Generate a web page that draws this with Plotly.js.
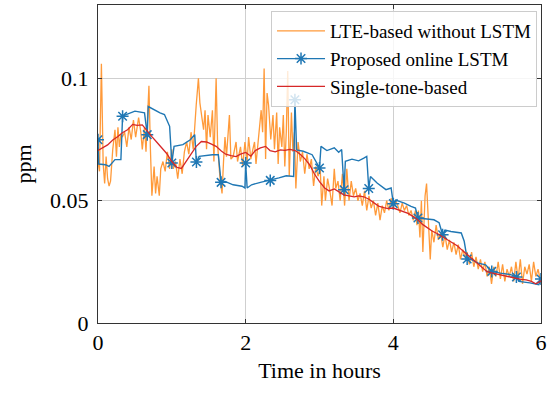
<!DOCTYPE html>
<html>
<head>
<meta charset="utf-8">
<script src="https://cdn.plot.ly/plotly-3.0.1.min.js"></script>
<style>html,body{margin:0;padding:0;background:#fff;}#chart{width:555px;height:393px;}</style>
</head>
<body>
<div id="chart"></div>
<script>
// LTE-based without LSTM (orange)
const lteX = [0.00,0.02,0.046,0.07,0.09,0.11,0.13,0.15,0.17,0.20,0.23,0.25,0.27,0.29,0.31,0.33,0.36,0.39,0.42,0.45,0.48,0.51,0.55,0.58,0.60,0.63,0.65,0.69,0.71,0.73,0.76,0.78,0.80,0.83,0.85,0.88,0.91,0.94,0.97,1.00,
1.02,1.05,1.08,1.11,1.14,1.17,1.20,1.23,1.26,1.29,1.33,1.36,1.38,1.40,1.43,1.45,1.47,1.49,1.52,1.55,1.57,1.60,1.62,1.65,1.68,1.70,1.72,1.74,1.78,1.80,1.83,1.87,1.89,1.93,1.96,1.99,
2.02,2.04,2.07,2.09,2.12,2.14,2.18,2.21,2.23,2.25,2.27,2.29,2.31,2.34,2.37,2.39,2.42,2.44,2.46,2.49,2.51,2.53,2.55,2.57,2.59,2.62,2.64,2.66,2.68,2.71,2.74,2.77,2.80,2.83,2.86,2.89,2.92,2.95,2.98,
3.01,3.03,3.06,3.08,3.11,3.14,3.17,3.20,3.22,3.25,3.28,3.31,3.34,3.37,3.40,3.43,3.46,3.49,3.52,3.55,3.58,3.61,3.64,3.67,3.70,3.73,3.76,3.79,3.82,3.85,3.88,3.91,3.94,3.97,
4.00,4.03,4.06,4.09,4.12,4.15,4.18,4.21,4.24,4.27,4.30,4.32,4.34,4.36,4.38,4.40,4.43,4.45,4.47,4.50,4.52,4.55,4.58,4.61,4.64,4.67,4.70,4.73,4.76,4.79,4.82,4.85,4.88,4.91,4.94,4.97,
5.00,5.03,5.06,5.09,5.12,5.15,5.18,5.21,5.24,5.27,5.30,5.33,5.36,5.39,5.42,5.45,5.48,5.51,5.54,5.57,5.60,5.63,5.66,5.69,5.72,5.75,5.78,5.81,5.84,5.87,5.90,5.93,5.96,6.00];
const lteY = [0.066,0.062,0.106,0.065,0.057,0.068,0.059,0.056,0.058,0.071,0.079,0.068,0.080,0.072,0.077,0.076,0.078,0.072,0.080,0.075,0.083,0.076,0.084,0.078,0.071,0.080,0.070,0.097,0.071,0.052,0.064,0.053,0.060,0.052,0.063,0.066,0.062,0.070,0.063,0.071,
0.063,0.066,0.059,0.067,0.061,0.070,0.074,0.069,0.078,0.071,0.089,0.100,0.090,0.086,0.079,0.087,0.071,0.085,0.076,0.087,0.066,0.100,0.073,0.060,0.053,0.066,0.076,0.068,0.085,0.067,0.068,0.074,0.066,0.072,0.064,0.074,
0.066,0.076,0.067,0.070,0.074,0.065,0.079,0.087,0.078,0.104,0.067,0.094,0.089,0.075,0.085,0.071,0.086,0.065,0.080,0.072,0.085,0.064,0.078,0.103,0.060,0.086,0.070,0.078,0.055,0.074,0.066,0.070,0.061,0.069,0.063,0.067,0.056,0.064,0.060,
0.063,0.048,0.060,0.050,0.059,0.054,0.048,0.063,0.055,0.058,0.050,0.061,0.048,0.063,0.050,0.058,0.052,0.055,0.050,0.053,0.048,0.054,0.046,0.052,0.047,0.050,0.044,0.049,0.042,0.048,0.045,0.050,0.046,0.051,
0.047,0.050,0.048,0.045,0.049,0.046,0.048,0.044,0.046,0.042,0.046,0.040,0.046,0.035,0.050,0.029,0.052,0.057,0.045,0.026,0.038,0.033,0.040,0.034,0.037,0.031,0.036,0.030,0.034,0.029,0.033,0.028,0.032,0.026,0.030,0.027,
0.029,0.024,0.029,0.023,0.027,0.022,0.026,0.021,0.025,0.019,0.023,0.016,0.023,0.019,0.025,0.018,0.024,0.017,0.022,0.019,0.023,0.017,0.025,0.018,0.026,0.016,0.023,0.020,0.024,0.017,0.025,0.019,0.022,0.016];

// Proposed online LSTM (blue)
const lstmX = [0,0.01,0.10,0.15,0.23,0.31,
0.333,0.38,0.50,0.63,
0.667,0.68,0.84,0.90,0.97,
1.0,1.03,1.15,1.25,1.31,
1.333,1.37,1.55,1.63,
1.667,1.72,1.83,1.95,1.99,
2.0,2.02,2.08,2.20,
2.333,2.45,2.55,2.65,
2.667,2.69,2.78,2.90,
3.0,3.02,3.10,3.20,3.26,3.30,
3.333,3.35,3.44,3.53,3.60,3.64,
3.667,3.69,3.78,3.90,3.97,
4.0,4.03,4.15,4.24,4.30,
4.333,4.40,4.55,4.62,
4.667,4.70,4.78,4.92,4.96,
5.0,5.05,5.15,5.25,5.31,
5.333,5.45,5.60,
5.667,5.70,5.85,5.97,
6.0];
const lstmY = [0.0749,0.0650,0.0647,0.0640,0.0668,0.0668,
0.0845,0.0852,0.0866,0.0859,
0.0770,0.0885,0.0859,0.0852,0.0804,
0.0654,0.0722,0.0729,0.0749,0.0770,
0.0658,0.0681,0.0688,0.0688,
0.0575,0.0579,0.0565,0.0559,0.0552,
0.0654,0.0552,0.0565,0.0575,
0.0583,0.0593,0.0602,0.0599,
0.0913,0.0708,0.0702,0.0688,
0.0634,0.0722,0.0705,0.0716,0.0698,0.0709,
0.0545,0.0661,0.0670,0.0663,0.0674,0.0681,
0.0550,0.0599,0.0572,0.0545,0.0552,
0.0488,0.0502,0.0490,0.0477,0.0470,
0.0429,0.0427,0.0422,0.0410,
0.0361,0.0380,0.0374,0.0368,0.0334,
0.0262,0.0260,0.0245,0.0238,0.0218,
0.0211,0.0204,0.0197,
0.0188,0.0170,0.0164,0.0157,
0.0180];
const lstmMarkX = [0,0.333,0.667,1.0,1.333,1.667,2.0,2.333,2.667,3.0,3.333,3.667,4.0,4.333,4.667,5.0,5.333,5.667,6.0];
const lstmMarkY = [0.0749,0.0845,0.0770,0.0654,0.0658,0.0575,0.0654,0.0583,0.0913,0.0634,0.0545,0.0550,0.0488,0.0429,0.0361,0.0262,0.0211,0.0188,0.0180];

// Single-tone-based (red)
const toneX = [0.00,0.07,0.13,0.20,0.27,0.33,0.40,0.47,0.53,0.60,0.67,0.73,0.80,0.87,0.93,1.00,1.07,1.13,1.20,1.27,1.33,1.40,1.47,1.53,1.60,1.67,1.73,1.80,1.87,1.93,
2.00,2.07,2.13,2.20,2.27,2.33,2.40,2.47,2.53,2.60,2.67,2.73,2.80,2.87,2.93,3.00,3.07,3.13,3.20,3.27,3.33,3.40,3.47,3.53,3.60,3.67,3.73,3.80,3.87,3.93,
4.00,4.07,4.13,4.20,4.27,4.33,4.40,4.47,4.53,4.60,4.67,4.73,4.80,4.87,4.93,5.00,5.07,5.13,5.20,5.27,5.33,5.40,5.47,5.53,5.60,5.67,5.73,5.80,5.87,5.93,6.00];
const toneY = [0.0705,0.0718,0.0728,0.0748,0.0762,0.0778,0.0790,0.0812,0.0808,0.0810,0.0783,0.0762,0.0738,0.0712,0.0693,0.0660,0.0636,0.0632,0.0664,0.0692,0.0722,0.0742,0.0740,0.0732,0.0722,0.0703,0.0690,0.0684,0.0680,0.0690,
0.0697,0.0682,0.0705,0.0716,0.0722,0.0705,0.0700,0.0708,0.0706,0.0710,0.0705,0.0692,0.0672,0.0645,0.0610,0.0578,0.0552,0.0540,0.0548,0.0535,0.0524,0.0520,0.0516,0.0520,0.0516,0.0506,0.0492,0.0478,0.0472,0.0468,
0.0470,0.0462,0.0458,0.0448,0.0435,0.0422,0.0402,0.0388,0.0375,0.0365,0.0352,0.0342,0.0328,0.0315,0.0298,0.0280,0.0262,0.0245,0.0225,0.0210,0.0205,0.0200,0.0195,0.0190,0.0186,0.0182,0.0178,0.0176,0.0170,0.0160,0.0172];

const xTicks = [0,2,4,6];
const yTicks = [0,0.05,0.1];
const yTickText = ['0','0.05','0.1'];

const ORANGE = '#ff9a3a', BLUE = '#1f77b4', RED = '#d62728';
const FONT = '"Liberation Serif", "Times New Roman", Times, serif';

const traces = [
  {x: lteX, y: lteY, mode: 'lines', name: 'LTE-based without LSTM',
   line: {color: ORANGE, width: 1.3}},
  {x: lstmX, y: lstmY, mode: 'lines', showlegend: false, hoverinfo: 'skip',
   line: {color: BLUE, width: 1.4}},
  {x: lstmMarkX, y: lstmMarkY, mode: 'markers', showlegend: false,
   marker: {symbol: 'asterisk-open', size: 10, color: BLUE, line: {color: BLUE, width: 1.5}}},
  {x: [null], y: [null], mode: 'lines+markers', name: 'Proposed online LSTM',
   line: {color: BLUE, width: 1.4},
   marker: {symbol: 'asterisk-open', size: 10, color: BLUE, line: {color: BLUE, width: 1.5}}},
  {x: toneX, y: toneY, mode: 'lines', name: 'Single-tone-based',
   line: {color: RED, width: 1.3}}
];

const axisCommon = {
  showline: true, linecolor: '#333', linewidth: 1, mirror: 'ticks',
  ticks: 'inside', ticklen: 4, tickcolor: '#333', tickwidth: 1,
  showgrid: true, gridcolor: '#cfcfcf', gridwidth: 1, zeroline: false,
  tickfont: {family: FONT, size: 22, color: '#000'}
};

const layout = {
  width: 555, height: 393,
  margin: {l: 98, r: 14, t: 5, b: 70},
  paper_bgcolor: '#fff', plot_bgcolor: '#fff',
  font: {family: FONT, color: '#000'},
  xaxis: Object.assign({}, axisCommon, {
    range: [0, 6], tickvals: xTicks, ticktext: xTicks.map(String),
    title: {text: 'Time in hours', font: {family: FONT, size: 22, color: '#000'}, standoff: 8}
  }),
  yaxis: Object.assign({}, axisCommon, {
    range: [0, 0.13], tickvals: yTicks, ticktext: yTickText, ticklabelstandoff: 4,
    title: {text: 'ppm', font: {family: FONT, size: 22, color: '#000'}, standoff: 12}
  }),
  showlegend: true,
  legend: {
    x: 0.991, xanchor: 'right', y: 0.981, yanchor: 'top',
    bgcolor: 'rgba(255,255,255,0.8)', bordercolor: '#cccccc', borderwidth: 1,
    font: {family: FONT, size: 19, color: '#000'},
    itemwidth: 48, tracegroupgap: 0
  }
};

Plotly.newPlot('chart', traces, layout, {staticPlot: true, displayModeBar: false});
</script>
</body>
</html>
